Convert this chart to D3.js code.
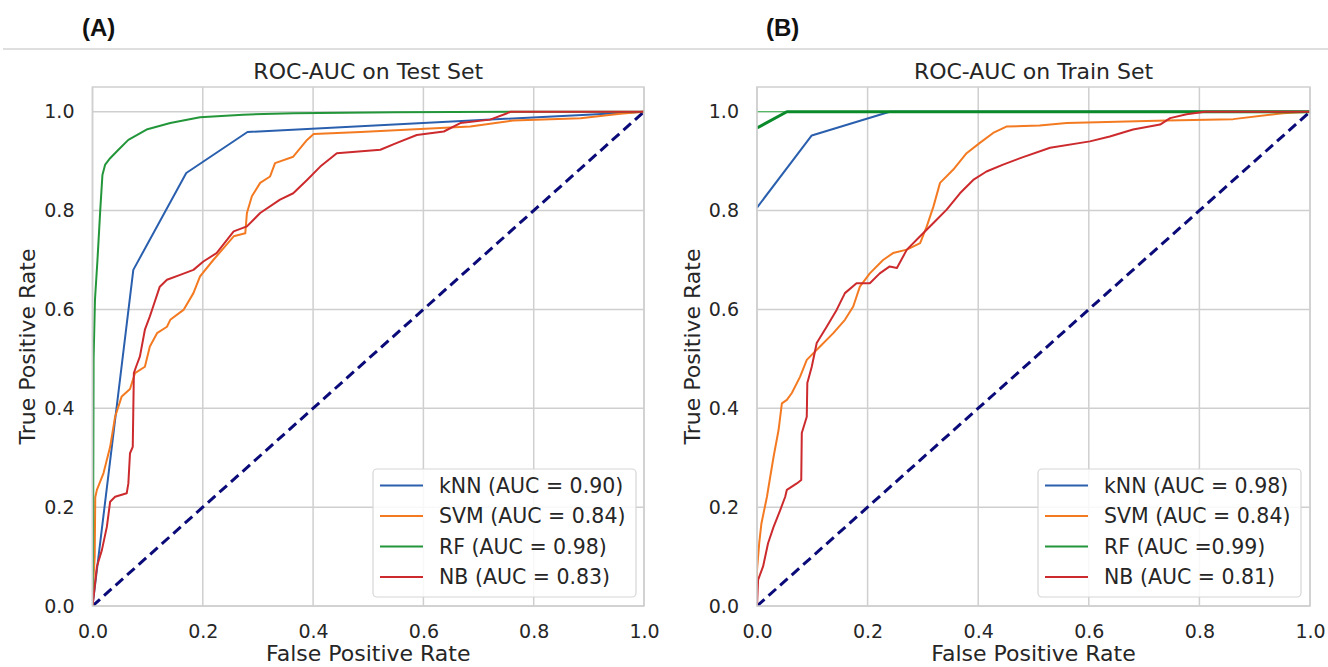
<!DOCTYPE html>
<html>
<head>
<meta charset="utf-8">
<script src="https://cdn.jsdelivr.net/npm/d3@7"></script>
<style>
  html, body { margin: 0; padding: 0; background: #ffffff; }
  svg { display: block; }
  text { font-family: "DejaVu Sans", sans-serif; fill: #262626; }
</style>
</head>
<body>
<svg id="chart" width="1328" height="667"></svg>
<script>
// ---- tick values ----
const xTicks = [0, 0.2, 0.4, 0.6, 0.8, 1.0];
const yTicks = [0, 0.2, 0.4, 0.6, 0.8, 1.0];

// ---- model names ----
const models = ["kNN", "SVM", "RF", "NB"];

// ---- test set ROC curves ----
const testKnnFpr = [0, 0.074, 0.17, 0.281, 0.915, 1];
const testKnnTpr = [0, 0.68, 0.876, 0.959, 0.995, 1];

const testSvmFpr = [0, 0.002, 0.004, 0.005, 0.008, 0.02, 0.032, 0.041, 0.053, 0.068, 0.077, 0.095, 0.104, 0.117, 0.135, 0.141, 0.165, 0.183, 0.195, 0.219, 0.24, 0.256, 0.277, 0.28, 0.289, 0.304, 0.322, 0.331, 0.364, 0.389, 0.401, 0.486, 0.685, 0.763, 0.885, 0.957, 1];
const testSvmTpr = [0, 0.06, 0.1, 0.22, 0.235, 0.269, 0.322, 0.383, 0.424, 0.439, 0.471, 0.484, 0.525, 0.552, 0.565, 0.579, 0.599, 0.633, 0.667, 0.700, 0.727, 0.748, 0.754, 0.795, 0.829, 0.856, 0.869, 0.896, 0.909, 0.943, 0.955, 0.959, 0.970, 0.982, 0.987, 0.996, 1];

const testRfFpr = [0, 0.001, 0.002, 0.0045, 0.009, 0.014, 0.018, 0.023, 0.032, 0.047, 0.065, 0.098, 0.141, 0.195, 0.273, 0.364, 0.55, 0.758, 1];
const testRfTpr = [0, 0.1, 0.5, 0.62, 0.7, 0.8, 0.872, 0.893, 0.906, 0.923, 0.943, 0.964, 0.977, 0.989, 0.994, 0.997, 0.999, 1, 1];

const testNbFpr = [0, 0.002, 0.008, 0.017, 0.026, 0.032, 0.041, 0.062, 0.065, 0.068, 0.073, 0.074, 0.075, 0.079, 0.086, 0.095, 0.104, 0.11, 0.122, 0.135, 0.159, 0.183, 0.201, 0.225, 0.256, 0.28, 0.304, 0.34, 0.364, 0.389, 0.413, 0.443, 0.522, 0.552, 0.588, 0.637, 0.667, 0.721, 0.752, 0.758, 1];
const testNbTpr = [0, 0.019, 0.08, 0.113, 0.16, 0.211, 0.221, 0.228, 0.248, 0.309, 0.322, 0.397, 0.471, 0.484, 0.505, 0.559, 0.586, 0.606, 0.646, 0.660, 0.670, 0.680, 0.697, 0.714, 0.758, 0.768, 0.795, 0.822, 0.835, 0.862, 0.889, 0.916, 0.923, 0.937, 0.953, 0.960, 0.977, 0.984, 0.997, 1, 1];

const testAuc = ["0.90", "0.84", "0.98", "0.83"];

// ---- train set ROC curves ----
const trainKnnFpr = [0, 0.099, 0.24, 1];
const trainKnnTpr = [0.806, 0.952, 1, 1];

const trainSvmFpr = [0, 0.0, 0.004, 0.008, 0.018, 0.024, 0.03, 0.039, 0.045, 0.054, 0.063, 0.078, 0.09, 0.114, 0.138, 0.159, 0.174, 0.186, 0.204, 0.228, 0.246, 0.271, 0.295, 0.307, 0.319, 0.331, 0.355, 0.379, 0.403, 0.427, 0.451, 0.511, 0.56, 0.741, 0.861, 0.951, 1];
const trainSvmTpr = [0, 0.073, 0.127, 0.167, 0.221, 0.262, 0.302, 0.356, 0.41, 0.417, 0.431, 0.464, 0.498, 0.525, 0.552, 0.579, 0.606, 0.646, 0.673, 0.700, 0.714, 0.721, 0.734, 0.768, 0.808, 0.856, 0.883, 0.916, 0.937, 0.957, 0.970, 0.972, 0.977, 0.982, 0.985, 0.997, 1];

const trainRfBaseFpr = [0, 1];
const trainRfBaseTpr = [1, 1];
const trainRfFpr = [0, 0.054, 1];
const trainRfTpr = [0.967, 1, 1];

const trainNbFpr = [0, 0.002, 0.011, 0.02, 0.03, 0.042, 0.051, 0.054, 0.072, 0.08, 0.081, 0.09, 0.091, 0.099, 0.108, 0.126, 0.144, 0.159, 0.18, 0.204, 0.222, 0.24, 0.253, 0.271, 0.295, 0.319, 0.343, 0.367, 0.391, 0.415, 0.445, 0.476, 0.53, 0.602, 0.638, 0.68, 0.729, 0.747, 0.777, 0.81, 1];
const trainNbTpr = [0, 0.053, 0.08, 0.127, 0.16, 0.194, 0.221, 0.235, 0.248, 0.255, 0.35, 0.383, 0.451, 0.484, 0.532, 0.565, 0.599, 0.633, 0.653, 0.653, 0.673, 0.687, 0.684, 0.721, 0.748, 0.775, 0.802, 0.835, 0.862, 0.879, 0.893, 0.906, 0.927, 0.94, 0.95, 0.964, 0.974, 0.987, 0.995, 1, 1];

const trainAuc = ["0.98", "0.84", "0.99", "0.81"];

// ---- drawing ----
const colors = { kNN: "#2a5fae", SVM: "#f47a22", RF: "#23963a", NB: "#cc2a2d" };
const svg = d3.select("#chart");
const defs = svg.append("defs");

// panel letters and header rule
svg.append("line").attr("x1", 3).attr("x2", 1328).attr("y1", 49).attr("y2", 49)
  .attr("stroke", "#d4d4d4").attr("stroke-width", 1.5);
svg.append("text").attr("x", 82).attr("y", 36).text("(A)")
  .style("font-family", "'Liberation Sans', Arial, sans-serif").style("font-weight", "bold").style("font-size", "24px").style("fill", "#111");
svg.append("text").attr("x", 766).attr("y", 36).text("(B)")
  .style("font-family", "'Liberation Sans', Arial, sans-serif").style("font-weight", "bold").style("font-size", "24px").style("fill", "#111");

function zip(fpr, tpr) { return fpr.map((f, i) => [f, tpr[i]]); }

function drawPanel(opt) {
  const x = d3.scaleLinear().domain([0, 1]).range([opt.x0, opt.x1]);
  const y = d3.scaleLinear().domain([0, 1.05]).range([606, 87]);
  const g = svg.append("g");
  const top = y(1.05), bottom = y(0);

  defs.append("clipPath").attr("id", opt.id + "-clip")
    .append("rect").attr("x", x(0)).attr("y", top).attr("width", x(1) - x(0)).attr("height", bottom - top);

  // grid
  g.append("g").selectAll("line").data(xTicks).join("line")
    .attr("x1", d => x(d)).attr("x2", d => x(d)).attr("y1", top).attr("y2", bottom)
    .attr("stroke", "#cfcfcf").attr("stroke-width", 1.5);
  g.append("g").selectAll("line").data(yTicks).join("line")
    .attr("x1", x(0)).attr("x2", x(1)).attr("y1", d => y(d)).attr("y2", d => y(d))
    .attr("stroke", "#cfcfcf").attr("stroke-width", 1.5);

  // axes with tick labels
  const xAxis = g.append("g").attr("transform", `translate(0,${bottom})`)
    .call(d3.axisBottom(x).tickValues(xTicks).tickFormat(d3.format(".1f")).tickSize(0).tickPadding(19));
  const yAxis = g.append("g").attr("transform", `translate(${x(0)},0)`)
    .call(d3.axisLeft(y).tickValues(yTicks).tickFormat(d3.format(".1f")).tickSize(0).tickPadding(18));
  [xAxis, yAxis].forEach(a => {
    a.select(".domain").remove();
    a.selectAll("text").style("font-family", "'DejaVu Sans', sans-serif").style("font-size", "19px").attr("fill", "#262626");
  });

  const plot = g.append("g").attr("clip-path", `url(#${opt.id}-clip)`);

  // chance diagonal
  const line = d3.line().x(d => x(d[0])).y(d => y(d[1]));
  plot.append("path").datum([[0, 0], [1, 1]]).attr("d", line)
    .attr("fill", "none").attr("stroke", "#0a0a78").attr("stroke-width", 3).attr("stroke-dasharray", "10,5.5");

  // curves
  opt.curves.forEach(c => {
    plot.append("path").datum(zip(c.fpr, c.tpr)).attr("d", line)
      .attr("fill", "none").attr("stroke", c.color).attr("stroke-width", c.width || 2)
      .attr("stroke-linejoin", "round");
  });

  // frame
  g.append("rect").attr("x", x(0)).attr("y", top).attr("width", x(1) - x(0)).attr("height", bottom - top)
    .attr("fill", "none").attr("stroke", "#cfcfcf").attr("stroke-width", 1.5);

  // titles
  g.append("text").attr("x", (x(0) + x(1)) / 2).attr("y", 79).attr("text-anchor", "middle")
    .style("font-size", "22px").text(opt.title);
  g.append("text").attr("x", (x(0) + x(1)) / 2).attr("y", 661).attr("text-anchor", "middle")
    .style("font-size", "22px").text("False Positive Rate");
  g.append("text").attr("transform", `translate(${opt.x0 - 65},${(top + bottom) / 2}) rotate(-90)`)
    .attr("text-anchor", "middle").attr("dy", "0.35em").style("font-size", "22px").text("True Positive Rate");

  // legend
  const lg = g.append("g");
  lg.append("rect").attr("x", opt.legX).attr("y", 469).attr("width", 263).attr("height", 128).attr("rx", 4)
    .attr("fill", "#ffffff").attr("fill-opacity", 0.85).attr("stroke", "#d6d6d6").attr("stroke-width", 1.2);
  const rowY = [485.5, 516, 546.5, 577];
  opt.legend.forEach((t, i) => {
    lg.append("line").attr("x1", opt.legX + 7).attr("x2", opt.legX + 50).attr("y1", rowY[i]).attr("y2", rowY[i])
      .attr("stroke", colors[models[i]]).attr("stroke-width", 2);
    lg.append("text").attr("x", opt.legX + 66).attr("y", rowY[i]).attr("dy", "0.36em")
      .style("font-size", "20.5px").text(t);
  });
}

drawPanel({
  id: "test", x0: 92.5, x1: 644, legX: 373,
  title: "ROC-AUC on Test Set",
  curves: [
    { fpr: testKnnFpr, tpr: testKnnTpr, color: colors.kNN },
    { fpr: testSvmFpr, tpr: testSvmTpr, color: colors.SVM },
    { fpr: testRfFpr, tpr: testRfTpr, color: colors.RF },
    { fpr: testNbFpr, tpr: testNbTpr, color: colors.NB }
  ],
  legend: models.map((m, i) => `${m} (AUC = ${testAuc[i]})`)
});

drawPanel({
  id: "train", x0: 757, x1: 1310, legX: 1038,
  title: "ROC-AUC on Train Set",
  curves: [
    { fpr: trainKnnFpr, tpr: trainKnnTpr, color: colors.kNN },
    { fpr: trainSvmFpr, tpr: trainSvmTpr, color: colors.SVM },
    { fpr: trainRfBaseFpr, tpr: trainRfBaseTpr, color: "#55b865", width: 1.2 },
    { fpr: trainRfFpr, tpr: trainRfTpr, color: "#0b8a2a", width: 3 },
    { fpr: trainNbFpr, tpr: trainNbTpr, color: colors.NB }
  ],
  legend: [`kNN (AUC = ${trainAuc[0]})`, `SVM (AUC = ${trainAuc[1]})`, `RF (AUC =${trainAuc[2]})`, `NB (AUC = ${trainAuc[3]})`]
});
</script>
</body>
</html>
